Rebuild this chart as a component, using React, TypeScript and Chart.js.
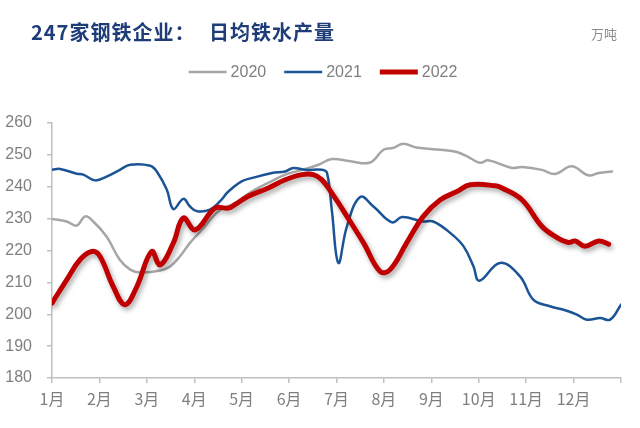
import React, { useEffect, useRef } from 'react';
import { Chart, registerables } from 'chart.js';

Chart.register(...registerables);

// x positions are in months since 1 Jan (0 = 1月, 12 = end of 12月)
const monthLabels = ['1月', '2月', '3月', '4月', '5月', '6月', '7月', '8月', '9月', '10月', '11月', '12月'];
const monthTicks = [0, 1, 2, 3, 4, 5, 6, 7, 8, 9, 10, 11, 12];
const seriesNames = ['2020', '2021', '2022'];

const x2020 = [0, 0.31, 0.52, 0.7, 0.87, 1.15, 1.43, 1.65, 1.86, 2.28, 2.49, 2.7, 2.91, 3.16, 3.51, 3.86, 4.21, 4.56, 4.92, 5.27, 5.62, 5.9, 6.29, 6.71, 6.99, 7.2, 7.41, 7.69, 8.19, 8.54, 8.82, 9.03, 9.2, 9.7, 9.91, 10.33, 10.61, 10.96, 11.31, 11.53, 11.81];
const v2020 = [229.9, 229.1, 227.8, 230.7, 229.1, 224.4, 217.1, 214.0, 213.1, 213.7, 215.0, 218.2, 222.4, 226.5, 232.3, 234.9, 238.5, 241.2, 243.8, 245.3, 246.9, 248.7, 248.0, 247.6, 251.6, 252.2, 253.5, 252.3, 251.6, 250.9, 249.0, 247.5, 248.3, 245.9, 246.2, 245.3, 244.0, 246.4, 243.6, 244.3, 244.8];

const x2021 = [0, 0.17, 0.52, 0.66, 0.91, 1.15, 1.43, 1.65, 2.07, 2.21, 2.42, 2.56, 2.77, 2.91, 3.06, 3.33, 3.54, 3.72, 4.0, 4.21, 4.64, 4.92, 5.09, 5.34, 5.69, 5.8, 5.9, 6.04, 6.22, 6.5, 6.78, 7.17, 7.38, 7.83, 8.04, 8.4, 8.68, 8.89, 9.01, 9.45, 9.87, 10.15, 10.5, 10.79, 11.07, 11.28, 11.56, 11.77, 12.0];
const v2021 = [245.3, 245.6, 244.1, 243.8, 242.0, 243.2, 245.3, 246.9, 246.6, 244.8, 239.1, 233.0, 236.2, 233.8, 232.3, 232.8, 235.4, 238.5, 241.7, 242.7, 244.3, 244.8, 245.9, 245.3, 245.3, 244.3, 232.8, 216.1, 227.6, 236.8, 233.8, 228.8, 230.5, 229.1, 229.1, 225.5, 221.3, 215.0, 210.5, 216.1, 211.9, 204.6, 202.5, 201.4, 199.9, 198.3, 198.8, 198.3, 203.0];

const x2022 = [0, 0.31, 0.59, 0.84, 1.01, 1.29, 1.54, 1.79, 2.1, 2.28, 2.56, 2.77, 3.02, 3.44, 3.72, 3.86, 4.14, 4.56, 4.92, 5.27, 5.51, 5.69, 5.97, 6.22, 6.57, 6.92, 7.13, 7.48, 7.83, 8.19, 8.54, 8.82, 9.35, 9.49, 9.91, 10.33, 10.61, 10.89, 11.03, 11.24, 11.53, 11.74];
const v2022 = [203.5, 210.8, 217.1, 219.7, 218.2, 208.7, 203.0, 208.7, 219.7, 215.5, 222.4, 230.2, 226.5, 233.3, 233.3, 234.4, 237.0, 239.6, 242.2, 243.8, 243.8, 242.2, 236.5, 230.7, 222.4, 213.4, 214.0, 222.4, 230.7, 235.9, 238.5, 240.6, 240.3, 239.6, 235.9, 227.6, 224.4, 222.5, 223.0, 221.3, 223.0, 222.0];

const titleLeft = '247家钢铁企业：';
const titleRight = '日均铁水产量';
const unitText = '万吨';

const GRAY = '#A6A6A6';
const BLUE = '#1A5496';
const RED = '#C00000';
const AXIS = '#BFBFBF';
const TEXT = '#7F7F7F';
const NUM_FONT = "'Liberation Sans Narrow', 'Liberation Sans', Arial, sans-serif";

const toPoints = (xs: number[], ys: number[]) => xs.map((x, i) => ({ x, y: ys[i] }));

const overlayPlugin = {
  id: 'overlay',
  beforeDatasetDraw(chart: any, args: any) {
    if (args.index === 2) {
      const ctx = chart.ctx;
      ctx.save();
      ctx.shadowColor = 'rgba(0,0,0,0.35)';
      ctx.shadowBlur = 5;
      ctx.shadowOffsetX = 2;
      ctx.shadowOffsetY = 3;
    }
  },
  afterDatasetDraw(chart: any, args: any) {
    if (args.index === 2) chart.ctx.restore();
  },
  afterDraw(chart: any) {
    const ctx = chart.ctx as CanvasRenderingContext2D;
    ctx.save();
    // title
    ctx.font = "bold 20px 'Noto Sans CJK SC', sans-serif";
    ctx.fillStyle = '#1E3C78';
    ctx.textBaseline = 'middle';
    ctx.textAlign = 'left';
    (ctx as any).letterSpacing = '1px';
    ctx.fillText(titleLeft, 31, 32);
    ctx.fillText(titleRight, 209, 32);
    (ctx as any).letterSpacing = '0px';
    // unit
    ctx.font = "13px 'Noto Sans CJK SC', sans-serif";
    ctx.fillStyle = '#8C8C8C';
    ctx.fillText(unitText, 591, 34);
    // legend
    ctx.font = `16px ${NUM_FONT}`;
    const lineLen = 38;
    const gap = 4;
    const spacing = 18;
    const items = chart.data.datasets.map((ds: any) => ({
      label: ds.label,
      color: ds.borderColor,
      width: ds.borderWidth,
      tw: ctx.measureText(ds.label).width,
    }));
    const total = items.reduce((s: number, it: any) => s + lineLen + gap + it.tw, 0) + spacing * (items.length - 1);
    let x = 323 - total / 2;
    const y = 72;
    items.forEach((it: any) => {
      ctx.strokeStyle = it.color;
      ctx.lineWidth = it.width;
      ctx.lineCap = 'butt';
      ctx.beginPath();
      ctx.moveTo(x, y);
      ctx.lineTo(x + lineLen, y);
      ctx.stroke();
      ctx.fillStyle = TEXT;
      ctx.fillText(it.label, x + lineLen + gap, y + 1);
      x += lineLen + gap + it.tw + spacing;
    });
    ctx.restore();
  },
};

export default function App() {
  const canvasRef = useRef<HTMLCanvasElement | null>(null);

  useEffect(() => {
    document.body.style.margin = '0';
    const canvas = canvasRef.current;
    if (!canvas) return;
    const chart = new Chart(canvas, {
      type: 'line',
      data: {
        datasets: [
          { label: seriesNames[0], data: toPoints(x2020, v2020), borderColor: GRAY, backgroundColor: GRAY, borderWidth: 2.5, order: 3 },
          { label: seriesNames[1], data: toPoints(x2021, v2021), borderColor: BLUE, backgroundColor: BLUE, borderWidth: 2.5, order: 2 },
          { label: seriesNames[2], data: toPoints(x2022, v2022), borderColor: RED, backgroundColor: RED, borderWidth: 5, order: 1 },
        ],
      },
      options: {
        animation: false,
        responsive: false,
        devicePixelRatio: 1,
        layout: { padding: { top: 123, right: 19, bottom: 0, left: 0 } },
        elements: {
          point: { radius: 0, hoverRadius: 0 },
          line: { tension: 0.4, borderCapStyle: 'round', borderJoinStyle: 'round' },
        },
        plugins: {
          legend: { display: false },
          title: { display: false },
          tooltip: { enabled: false },
        },
        scales: {
          x: {
            type: 'linear',
            min: 0,
            max: 12,
            afterBuildTicks: (s: any) => {
              s.ticks = monthTicks.map((v) => ({ value: v }));
            },
            afterFit: (s: any) => {
              s.height = 50;
            },
            ticks: {
              autoSkip: false,
              maxRotation: 0,
              padding: 6,
              color: TEXT,
              font: { size: 16, family: "'Liberation Sans Narrow', 'Noto Sans CJK SC', sans-serif" },
              callback: (v: any) => monthLabels[v] ?? '',
            },
            grid: { drawOnChartArea: false, tickLength: 5, color: AXIS, lineWidth: 1.5 },
            border: { color: AXIS, width: 1.5 },
          },
          y: {
            min: 180,
            max: 260,
            afterFit: (s: any) => {
              s.width = 52;
            },
            ticks: {
              stepSize: 10,
              padding: 15,
              color: TEXT,
              font: { size: 16, family: NUM_FONT },
            },
            grid: { drawOnChartArea: false, tickLength: 5, color: AXIS, lineWidth: 1.5 },
            border: { color: AXIS, width: 1.5 },
          },
        },
      },
      plugins: [overlayPlugin],
    } as any);
    return () => chart.destroy();
  }, []);

  return (
    <div style={{ position: 'fixed', left: 0, top: 0, width: 640, height: 428, background: '#ffffff' }}>
      <canvas ref={canvasRef} width={640} height={428} style={{ width: 640, height: 428, display: 'block' }} />
    </div>
  );
}
